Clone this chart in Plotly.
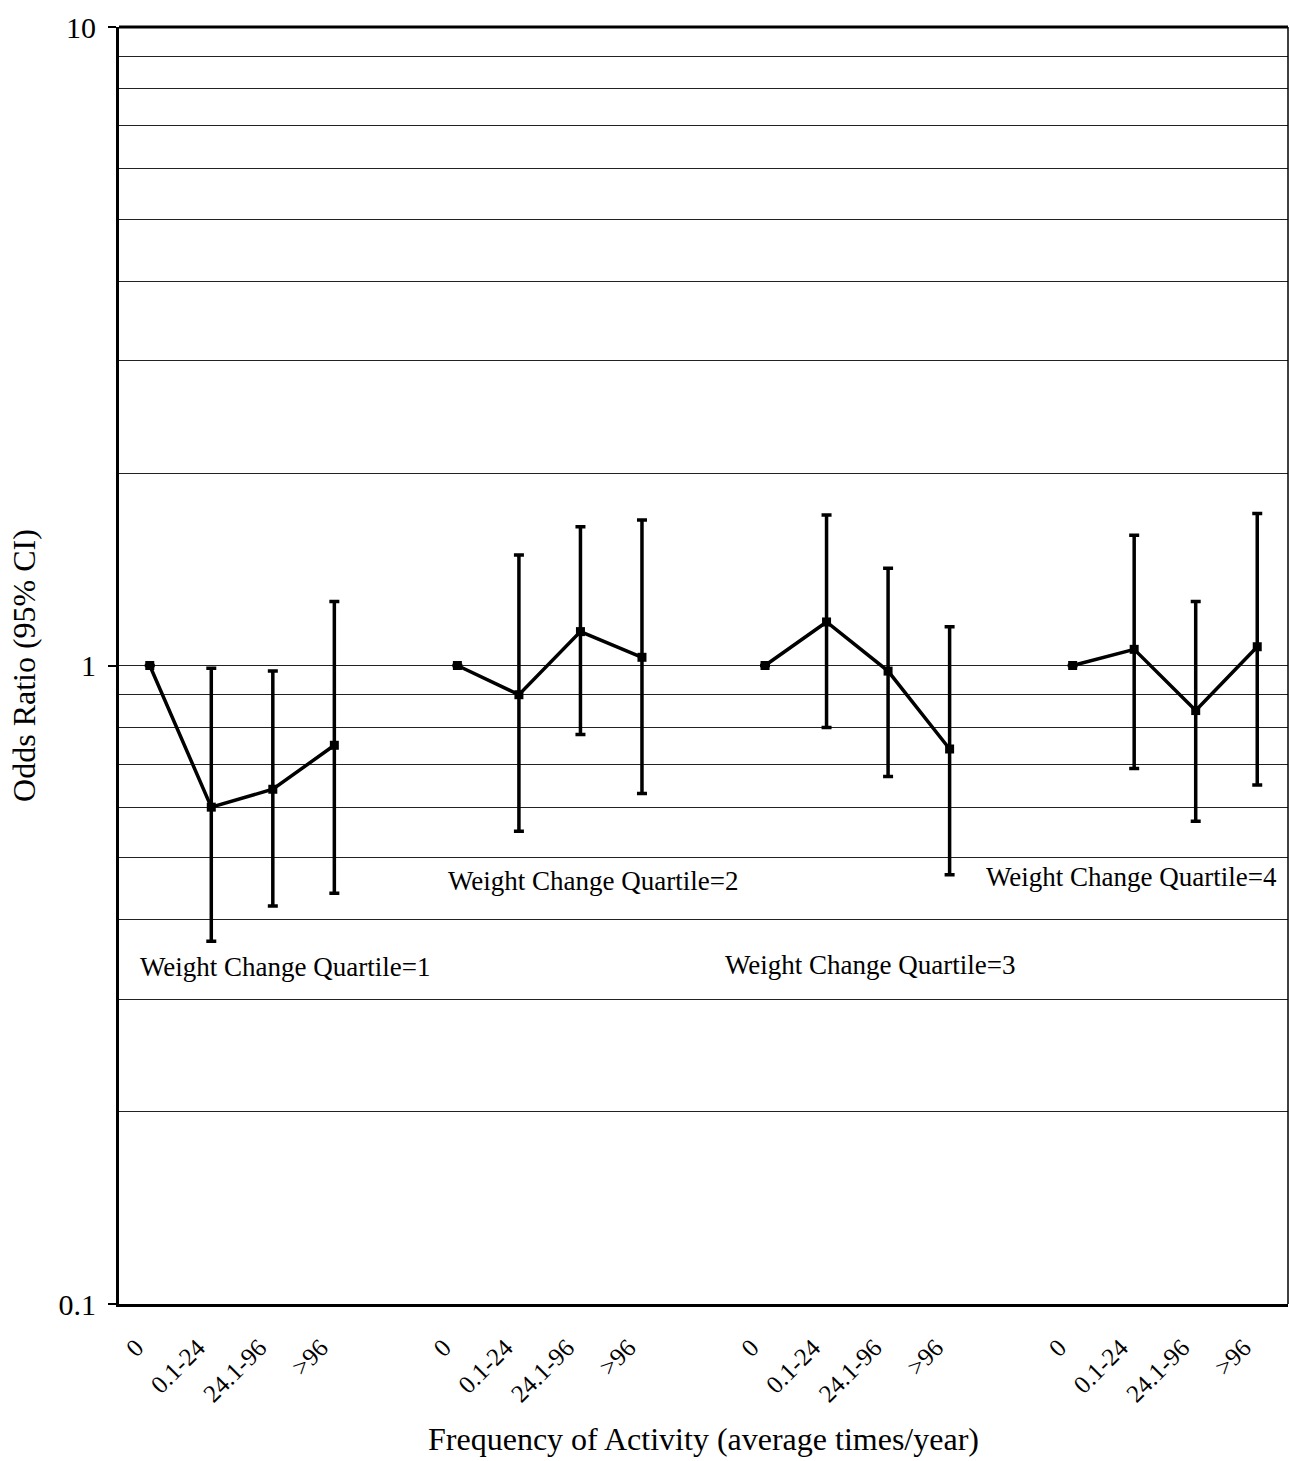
import math
import plotly.graph_objects as go

# ---- data ----
categories = ["0", "0.1-24", "24.1-96", ">96"]
groups = ["Weight Change Quartile=1", "Weight Change Quartile=2",
          "Weight Change Quartile=3", "Weight Change Quartile=4"]
# x slot for each group (4 categories each, with a blank slot between groups)
group_start = [0, 5, 10, 15]

or_q1 = [1.0, 0.60, 0.64, 0.75]
lo_q1 = [1.0, 0.37, 0.42, 0.44]
hi_q1 = [1.0, 0.99, 0.98, 1.26]

or_q2 = [1.0, 0.90, 1.13, 1.03]
lo_q2 = [1.0, 0.55, 0.78, 0.63]
hi_q2 = [1.0, 1.49, 1.65, 1.69]

or_q3 = [1.0, 1.17, 0.98, 0.74]
lo_q3 = [1.0, 0.80, 0.67, 0.47]
hi_q3 = [1.0, 1.72, 1.42, 1.15]

or_q4 = [1.0, 1.06, 0.85, 1.07]
lo_q4 = [1.0, 0.69, 0.57, 0.65]
hi_q4 = [1.0, 1.60, 1.26, 1.73]

label_x = [2.2, 7.2, 11.7, 15.95]
label_y = [0.337, 0.459, 0.340, 0.466]

major_ticks = [0.1, 1, 10]
major_text = ["0.1", "1", "10"]
minor_ticks = [0.2, 0.3, 0.4, 0.5, 0.6, 0.7, 0.8, 0.9, 2, 3, 4, 5, 6, 7, 8, 9]

FONT = "Liberation Serif"
LABEL_SHIFT = -0.22  # category labels sit slightly left of their points

fig = go.Figure()
series = [(or_q1, lo_q1, hi_q1), (or_q2, lo_q2, hi_q2),
          (or_q3, lo_q3, hi_q3), (or_q4, lo_q4, hi_q4)]
for gi, (o, lo, hi) in enumerate(series):
    xs = [group_start[gi] + i for i in range(len(categories))]
    plus = [h - v for h, v in zip(hi, o)]
    minus = [v - l for v, l in zip(o, lo)]
    fig.add_trace(go.Scatter(
        x=xs, y=o, mode="lines+markers",
        line=dict(color="black", width=3.5),
        marker=dict(symbol="square", size=9, color="black"),
        error_y=dict(type="data", symmetric=False, array=plus, arrayminus=minus,
                     color="black", thickness=3.5, width=5),
        showlegend=False, name=groups[gi]))

for gi, g in enumerate(groups):
    fig.add_annotation(x=label_x[gi], y=math.log10(label_y[gi]), xref="x", yref="y",
                       text=g, showarrow=False,
                       font=dict(family=FONT, size=27, color="black"))

tickvals = []
ticktext = []
for gi in range(len(groups)):
    for i, c in enumerate(categories):
        tickvals.append(group_start[gi] + i + LABEL_SHIFT)
        ticktext.append(c)

fig.update_layout(
    width=1290, height=1461,
    margin=dict(l=119, r=2, t=27, b=157, autoexpand=False),
    paper_bgcolor="white", plot_bgcolor="white",
    font=dict(family=FONT, color="black"),
    xaxis=dict(range=[-0.5, 18.5], tickmode="array", tickvals=tickvals, ticktext=ticktext,
               tickangle=-45, tickfont=dict(size=25, family=FONT), showgrid=False,
               zeroline=False, showline=True, linecolor="black", linewidth=3,
               ticks="", ticklabelstandoff=16,
               title=dict(text="Frequency of Activity (average times/year)",
                          font=dict(size=32, family=FONT), standoff=22)),
    yaxis=dict(type="log", range=[-1, 1], tickmode="array", tickvals=major_ticks,
               ticktext=major_text, tickfont=dict(size=30, family=FONT),
               ticks="outside", ticklen=8, tickwidth=1.5, tickcolor="black",
               ticklabelstandoff=6,
               showgrid=True, gridcolor="#222", gridwidth=1,
               minor=dict(tickmode="array", tickvals=minor_ticks, showgrid=True,
                          gridcolor="#222", gridwidth=1, ticks=""),
               showline=True, linecolor="black", linewidth=3, zeroline=False,
               title=dict(text="Odds Ratio (95% CI)", font=dict(size=32, family=FONT),
                          standoff=14)),
)
# top (thick) and right (thin) frame lines
fig.add_shape(type="line", xref="paper", yref="paper", x0=0, x1=1, y0=1, y1=1,
              line=dict(color="black", width=3))
fig.add_shape(type="line", xref="paper", yref="paper", x0=1, x1=1, y0=0, y1=1,
              line=dict(color="black", width=1.5))

fig.write_html("out.html")
